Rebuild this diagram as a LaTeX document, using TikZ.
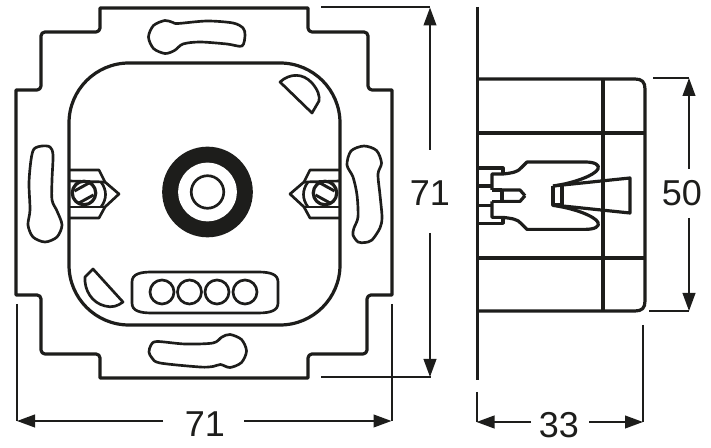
\documentclass[tikz,border=0pt]{standalone}
\usepackage{fontspec}
\setmainfont{Liberation Sans}
\usetikzlibrary{arrows.meta}
\definecolor{inkblack}{HTML}{1D1D1B}
\tikzset{
	partline/.style={draw=inkblack,line width=2.4pt,line join=round},
	thinpart/.style={draw=inkblack,line width=2pt,line join=round},
	dimline/.style={draw=inkblack,line width=1.5pt},
	dimarrow/.style={dimline,-{Triangle[length=13.5pt,width=9.5pt]}},
	dimlabel/.style={text=inkblack,font=\fontsize{27}{27}\selectfont,inner sep=0pt},
}
\begin{document}
\begin{tikzpicture}[x=0.75pt,y=-0.75pt]
\useasboundingbox (0,0) rectangle (711,448);

\draw[partline] (100,8) [rounded corners=3pt] -- (100,32) -- (41,32) -- (41,90) [sharp corners] -- (16,90) -- (16,295) [rounded corners=3pt] -- (41,295) -- (41,354) -- (100,354) [sharp corners] -- (100,378) -- (308,378) [rounded corners=3pt] -- (308,354) -- (367,354) -- (367,295) [sharp corners] -- (392,295) -- (392,90) [rounded corners=3pt] -- (368,90) -- (368,32) -- (308,32) [sharp corners] -- (308,8) -- cycle;
\draw[partline,rounded corners=45pt] (69,63) rectangle (340,325);

\draw[thinpart] plot[smooth cycle] coordinates {(165,20.5) (173,22.5) (178,23.5) (207,21) (233,23) (243,28) (245,35) (242,46) (227,44) (200,42) (183,44) (174.5,50.5) (165,53.5) (153.5,48.5) (148.5,37) (153.5,25.5)};
\draw[thinpart] plot[smooth cycle] coordinates {(157,341.5) (185,344) (213,343) (222,337) (230,334.5) (241.5,339.5) (246.5,351) (241.5,362.5) (230,367.5) (220.5,364.5) (213,366.5) (200,367) (160,363) (152,358) (149,352) (151,345)};
\draw[thinpart] plot[smooth cycle] coordinates {(42,146) (50,147) (53,155) (52,180) (52,200) (57,211) (62,225) (57,237) (45,242) (33,237) (28,225) (30,210) (29,183) (31,160) (34,149)};
\draw[thinpart] plot[smooth cycle] coordinates {(364,146) (376.5,150.5) (381.5,163) (378,174) (380,195) (382,217) (380,228) (372,240) (365,242.5) (358,242) (353,235) (354,228) (358,217) (357,195) (353,177) (347,165) (351,151)};

\draw[thinpart] (280,82) .. controls (290,73) and (303,73) .. (312,83) .. controls (318,90) and (320,96) .. (319,101) -- (312,113) -- cycle;
\draw[thinpart] (93,269) -- (85,277) .. controls (84,290) and (92,303) .. (105,306) .. controls (112,308) and (118,306) .. (123,302) -- cycle;

\fill[inkblack] (207.5,192) circle (34pt);
\fill[white] (207.5,192) circle (22pt);
\draw[thinpart] (207.5,192) circle (12.2pt);

\draw[thinpart] (132,282) .. controls (132,274) and (140,272) .. (152,272) -- (258,272) .. controls (272,272) and (278,275) .. (278,282) -- (278,303) .. controls (278,310) and (272,313) .. (258,313) -- (152,313) .. controls (140,313) and (132,311) .. (132,303) -- cycle;
\foreach \i in {162,189.5,217,245}{
	\draw[thinpart] (\i,292) circle (9pt);
	}

\foreach \ox/\sx in {0/1,409/-1}{
	\begin{scope}[shift={(\ox,0)},xscale=\sx]
	\draw[thinpart] (69,170) -- (99,170) -- (105,182) -- (119,194) -- (105,207) -- (99,218) -- (69,218);
	\draw[thinpart] (69,181) -- (105,182);
	\draw[thinpart] (69,207) -- (105,207);
	\draw[thinpart] (101,182) .. controls (107,190) and (107,199) .. (101,207);
	\draw[thinpart,line width=2.4pt] (84,193) circle (8.8pt);
	\draw[thinpart,line width=2.2pt] (74.5,191) -- (89,183);
	\draw[thinpart,line width=2.2pt] (79,203) -- (93.5,195);
	\end{scope}
	}

\draw[partline] (477.5,7) -- (477.5,380);
\draw[partline] (477,79) -- (635,79) .. controls (642,79) and (645,82) .. (645,89) -- (645,301) .. controls (645,308) and (642,311) .. (635,311) -- (477,311);
\draw[partline] (603,79) -- (603,311);
\draw[partline] (477,133) -- (645,133);
\draw[partline] (477,258) -- (645,258);

\foreach \oy/\sy in {0/1,391.4/-1}{
	\begin{scope}[shift={(0,\oy)},yscale=\sy]
	\draw[partline] (478,168) -- (503,168) -- (503,173);
	\draw[partline] (478,186) -- (492,186);
	\draw[partline] (492,190) -- (492,174) -- (503,174) .. controls (512,173) and (518,172) .. (521,168) -- (527,162) -- (585,162) .. controls (595,162) and (600,165) .. (598,169) .. controls (595,175) and (575,183) .. (553,186);
	\draw[partline] (492,190) -- (502,190);
	\draw[partline] (502,190) -- (520,190) -- (525,195.7);
	\end{scope}
	}
\draw[partline] (502,190) -- (502,201);
\draw[partline] (553,186) -- (553,205) -- (562,205) -- (562,186);
\draw[partline] (553,186) -- (630,178) -- (630,213) -- (553,205);

\node[dimlabel] (widthlabel) at (205,424) {71};
\node[dimlabel] (heightlabel) at (430,193) {71};
\node[dimlabel] (depthlabel) at (559,425) {33};
\node[dimlabel] (bodylabel) at (682,193) {50};

\coordinate (widthleft) at (17,421);
\coordinate (widthright) at (391.5,421);
\coordinate (widthstopa) at (163,421);
\coordinate (widthstopb) at (244,421);
\coordinate (heighttop) at (430,7.5);
\coordinate (heightbottom) at (430,377);
\coordinate (heightstopa) at (430,150);
\coordinate (heightstopb) at (430,233);
\coordinate (depthleft) at (476.5,422);
\coordinate (depthright) at (643,422);
\coordinate (depthstopa) at (531,422);
\coordinate (depthstopb) at (589,422);
\coordinate (bodytop) at (689,78);
\coordinate (bodybottom) at (689,311);
\coordinate (bodystopa) at (689,169);
\coordinate (bodystopb) at (689,218);

\draw[dimarrow] (widthstopa) -- (widthleft);
\draw[dimarrow] (widthstopb) -- (widthright);
\draw[dimarrow] (heightstopa) -- (heighttop);
\draw[dimarrow] (heightstopb) -- (heightbottom);
\draw[dimarrow] (depthstopa) -- (depthleft);
\draw[dimarrow] (depthstopb) -- (depthright);
\draw[dimarrow] (bodystopa) -- (bodytop);
\draw[dimarrow] (bodystopb) -- (bodybottom);

\draw[dimline] (321,7.5) -- (heighttop);
\draw[dimline] (321,377) -- (431,377);
\draw[dimline] (17,304) -- (widthleft);
\draw[dimline] (391.5,304) -- (widthright);
\draw[dimline] (476.5,392) -- (depthleft);
\draw[dimline] (643,325) -- (depthright);
\draw[dimline] (653,78) -- (bodytop);
\draw[dimline] (649,311) -- (bodybottom);
\end{tikzpicture}
\end{document}
